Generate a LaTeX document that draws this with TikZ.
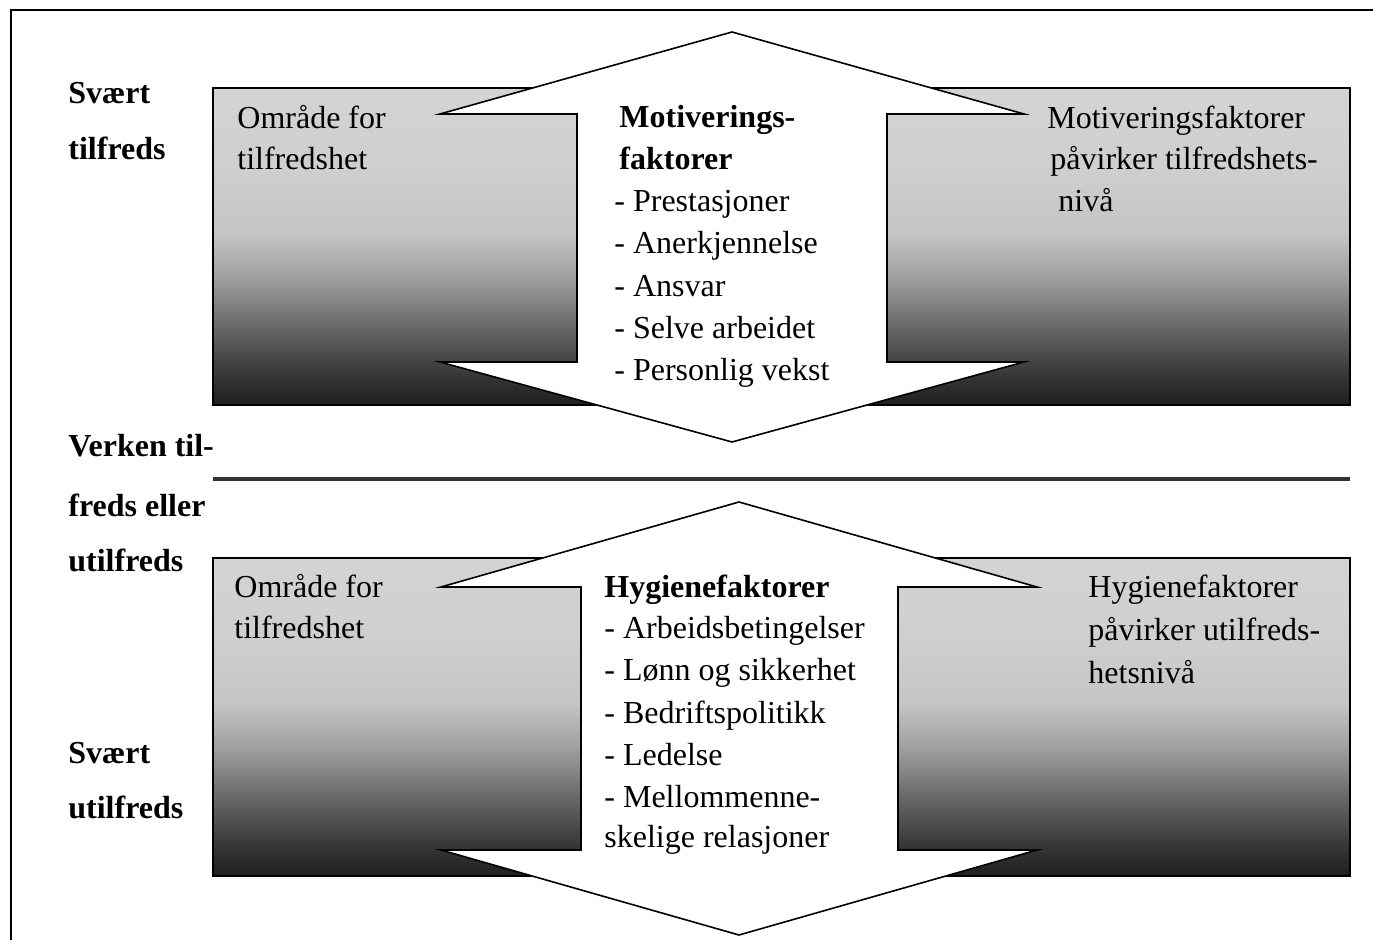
\documentclass[tikz,border=0pt]{standalone}
\usepackage{fontspec}
\setmainfont{Liberation Serif}
\pgfdeclareverticalshading{herzshade}{100bp}{color(0bp)=(black!88); color(25bp)=(black!88); color(30bp)=(black!78); color(37bp)=(black!60); color(45bp)=(black!38); color(52bp)=(black!23); color(62bp)=(black!19); color(75bp)=(black!17); color(100bp)=(black!17)}
\begin{document}
\begin{tikzpicture}[x=0.5pt, y=-0.5pt,
  lbl/.style={font=\fontsize{16}{20}\selectfont\bfseries, anchor=base west, inner sep=0pt},
  txt/.style={font=\fontsize{16}{20}\selectfont, anchor=base west, inner sep=0pt},
  hdr/.style={font=\fontsize{16}{20}\selectfont\bfseries, anchor=base west, inner sep=0pt},
  zone/.style={draw=black, line width=0.6pt, shading=herzshade},
  bigarrow/.style={draw=black, fill=white, line width=0.8pt, line join=miter},
  framestyle/.style={draw=black, line width=0.8pt},
  divider/.style={draw=black!80, line width=2pt}]
\useasboundingbox (0,0) rectangle (1373,952);
% frame
\draw[framestyle] (11,940) -- (11,10) -- (1373,10);
% zones
\shade[zone] (213,88) rectangle (1350,405);
\shade[zone] (213,558) rectangle (1350,876);
% divider
\draw[divider] (213,479) -- (1350,479);
% arrows
\draw[bigarrow] (732,32) -- (1024,114) -- (887,114) -- (887,362) -- (1024,362) -- (732,442)
  -- (440,362) -- (577,362) -- (577,114) -- (440,114) -- cycle;
\draw[bigarrow] (739,502) -- (1037,587) -- (898,587) -- (898,850) -- (1037,850) -- (739,935)
  -- (441,850) -- (581,850) -- (581,587) -- (441,587) -- cycle;
% left labels
\node[lbl] (s1) at (68,104) {Svært};
\node[lbl] (s2) at (68,160) {tilfreds};
\node[lbl] (v1) at (68,457) {Verken til-};
\node[lbl] (v2) at (68,517) {freds eller};
\node[lbl] (v3) at (68,572) {utilfreds};
\node[lbl] (u1) at (68,763) {Svært};
\node[lbl] (u2) at (68,818) {utilfreds};
% top zone texts
\node[txt] (ta1) at (237,129) {Område for};
\node[txt] (ta2) at (237,170) {tilfredshet};
\node[hdr] (tm1) at (619,128) {Motiverings-};
\node[hdr] (tm2) at (619,170) {faktorer};
\node[txt] (tm3) at (614,212) {- Prestasjoner};
\node[txt] (tm4) at (614,254) {- Anerkjennelse};
\node[txt] (tm5) at (614,297) {- Ansvar};
\node[txt] (tm6) at (614,339) {- Selve arbeidet};
\node[txt] (tm7) at (614,381) {- Personlig vekst};
\node[txt] (tr1) at (1047,129) {Motiveringsfaktorer};
\node[txt] (tr2) at (1050,170) {påvirker tilfredshets-};
\node[txt] (tr3) at (1058,212) {nivå};
% bottom zone texts
\node[txt] (ba1) at (234,598) {Område for};
\node[txt] (ba2) at (234,639) {tilfredshet};
\node[hdr] (bh1) at (604,597) {Hygienefaktorer};
\node[txt] (bh2) at (604,639) {- Arbeidsbetingelser};
\node[txt] (bh3) at (604,681) {- Lønn og sikkerhet};
\node[txt] (bh4) at (604,723) {- Bedriftspolitikk};
\node[txt] (bh5) at (604,765) {- Ledelse};
\node[txt] (bh6) at (604,807) {- Mellommenne-};
\node[txt] (bh7) at (604,847) {skelige relasjoner};
\node[txt] (br1) at (1088,598) {Hygienefaktorer};
\node[txt] (br2) at (1088,640) {påvirker utilfreds-};
\node[txt] (br3) at (1088,683) {hetsnivå};
\end{tikzpicture}
\end{document}
